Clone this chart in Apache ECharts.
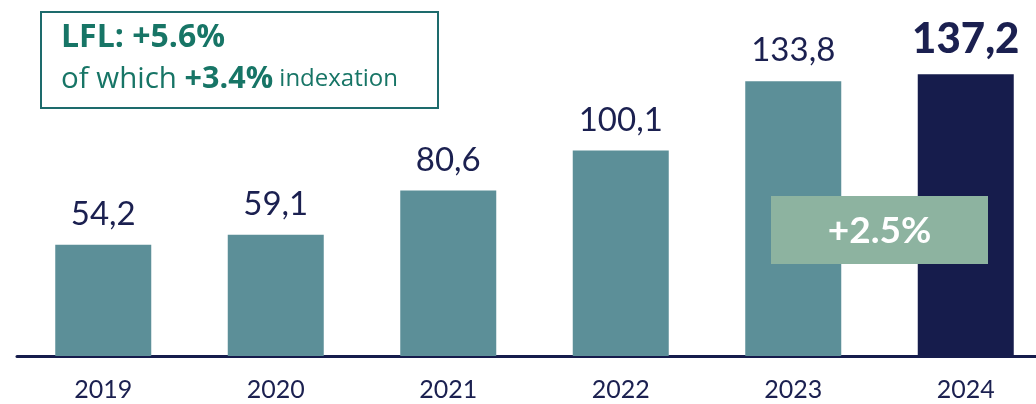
<!DOCTYPE html>
<html>
<head>
<meta charset="utf-8">
<script src="https://cdn.jsdelivr.net/npm/echarts@6/dist/echarts.min.js"></script>
<style>
html,body{margin:0;padding:0;background:#fff;overflow:hidden;width:1036px;height:404px;}
#chart{width:1060px;height:404px;}
</style>
</head>
<body>
<div id="chart"></div>
<script>
var categories = ['2019', '2020', '2021', '2022', '2023', '2024'];
var values = [54.2, 59.1, 80.6, 100.1, 133.8, 137.2];
var lflText = 'LFL: +5.6%';
var indexText = '+3.4%';
var growthText = '+2.5%';

var TEAL = '#5c8f98';
var NAVY = '#161c4c';
var GREEN = '#177566';
var numFont = 'Lato';

function fmt(v) { return v.toFixed(1).replace('.', ','); }

var barData = values.map(function (v, i) {
  var last = i === values.length - 1;
  return {
    value: v,
    itemStyle: { color: last ? NAVY : TEAL },
    label: last ? { fontSize: 42, fontWeight: 900, distance: 14 } : {}
  };
});

var chart = echarts.init(document.getElementById('chart'), null, { renderer: 'canvas' });
chart.setOption({
  animation: false,
  grid: { left: 17, width: 1035, top: 7, bottom: 48, containLabel: false },
  xAxis: {
    type: 'category',
    data: categories,
    axisLine: { show: true, lineStyle: { color: NAVY, width: 3 } },
    axisTick: { show: false },
    axisLabel: { color: '#1b2050', fontSize: 25, fontFamily: numFont, margin: 21 }
  },
  yAxis: {
    type: 'value', min: 0, max: 170, show: false,
    splitLine: { show: false }
  },
  series: [{
    type: 'bar',
    data: barData,
    barWidth: 96,
    label: {
      show: true, position: 'top', distance: 14,
      color: '#1b2050', fontSize: 33, fontFamily: numFont,
      formatter: function (p) { return fmt(p.value); }
    }
  }],
  graphic: [
    {
      type: 'rect', left: 40, top: 11, z: 10,
      shape: { width: 397, height: 96 },
      style: { fill: '#fff', stroke: '#1d6b6c', lineWidth: 2 }
    },
    {
      type: 'text', left: 61, top: 22, z: 11,
      style: {
        text: lflText, fill: GREEN, fontSize: 32, fontWeight: 'bold', fontFamily: 'Open Sans'
      }
    },
    {
      type: 'text', left: 61, top: 64, z: 11,
      style: {
        text: '{a|of which }{b|' + indexText + '}{c| indexation}',
        fill: GREEN, fontFamily: 'Open Sans',
        rich: {
          a: { fontSize: 29.5, fill: GREEN, fontFamily: 'Open Sans', lineHeight: 36 },
          b: { fontSize: 30.5, fontWeight: 'bold', fill: GREEN, fontFamily: 'Open Sans', lineHeight: 36 },
          c: { fontSize: 24, fill: GREEN, fontFamily: 'Open Sans', lineHeight: 36 }
        }
      }
    },
    {
      type: 'rect', left: 771, top: 196, z: 10,
      shape: { width: 217, height: 68 },
      style: { fill: '#8db3a0' }
    },
    {
      type: 'text', x: 879.5, y: 231, z: 11,
      style: {
        text: growthText, fill: '#fff', fontSize: 37, fontWeight: 'bold', fontFamily: numFont,
        align: 'center', verticalAlign: 'middle'
      }
    }
  ]
});
</script>
</body>
</html>
